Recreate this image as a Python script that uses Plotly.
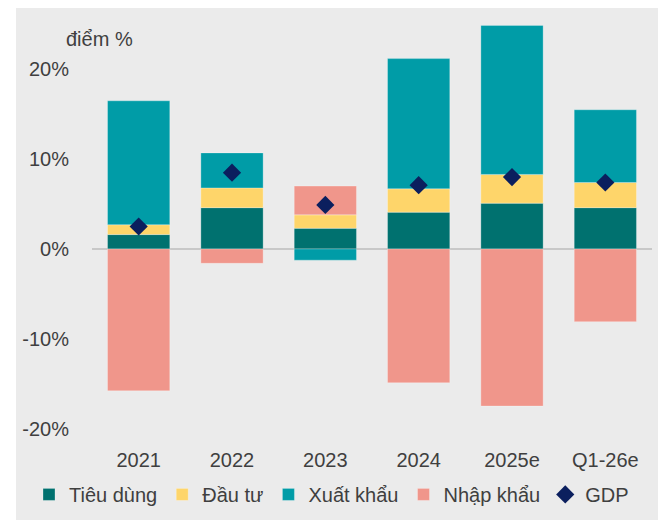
import plotly.graph_objects as go

categories = ["2021", "2022", "2023", "2024", "2025e", "Q1-26e"]
tieu_dung = [1.6, 4.6, 2.3, 4.1, 5.1, 4.6]
dau_tu = [1.1, 2.2, 1.5, 2.6, 3.2, 2.8]
xuat_khau = [13.8, 3.9, -1.25, 14.5, 16.6, 8.1]
nhap_khau = [-15.8, -1.6, 3.2, -14.9, -17.5, -8.1]
gdp = [2.5, 8.5, 4.9, 7.1, 8.0, 7.4]

ytick_vals = [-20, -10, 0, 10, 20]
ytick_text = ["-20%", "-10%", "0%", "10%", "20%"]

FONT = "Liberation Sans"
TXT = "#3f3f3f"
BG = "#ebebeb"
FS = 20

edge = dict(color="rgba(255,255,255,0.35)", width=0.8)

fig = go.Figure()
fig.add_bar(x=categories, y=tieu_dung, name="Tiêu dùng", marker=dict(color="#00716f", line=edge))
fig.add_bar(x=categories, y=dau_tu, name="Đầu tư", marker=dict(color="#fed56a", line=edge))
fig.add_bar(x=categories, y=xuat_khau, name="Xuất khẩu", marker=dict(color="#009ca7", line=edge))
fig.add_bar(x=categories, y=nhap_khau, name="Nhập khẩu", marker=dict(color="#f0968b", line=edge))
fig.add_scatter(x=categories, y=gdp, name="GDP", mode="markers",
                marker=dict(symbol="diamond", size=14, color="#0b1f5e"))

L, R, T, B = 92, 6, 20, 86.5
W, H = 658, 520
pw = W - L - R
ph = H - T - B

def px_x(x):
    return (x - L) / pw

def px_y(y):
    return (H - B - y) / ph

fig.add_shape(type="rect", xref="paper", yref="paper",
              x0=px_x(16), x1=px_x(W + 5), y0=px_y(H + 5), y1=px_y(8),
              fillcolor=BG, line=dict(width=0), layer="below")

fig.add_annotation(text="điểm %", xref="paper", yref="paper",
                   x=px_x(64), y=px_y(39), xanchor="left", yanchor="middle",
                   showarrow=False, font=dict(family=FONT, size=FS, color=TXT))

fig.update_layout(
    width=W, height=H,
    margin=dict(l=L, r=R, t=T, b=B),
    paper_bgcolor="white",
    plot_bgcolor="rgba(0,0,0,0)",
    barmode="relative",
    bargap=0.333,
    font=dict(family=FONT, size=FS, color=TXT),
    showlegend=True,
    legend=dict(orientation="h", x=px_x(29), xanchor="left",
                y=px_y(495), yanchor="middle",
                font=dict(family=FONT, size=FS, color=TXT),
                bgcolor="rgba(0,0,0,0)", itemwidth=30, traceorder="normal"),
)
fig.update_xaxes(range=[-0.5, 5.5], showgrid=False, showline=False, zeroline=False,
                 ticks="outside", ticklen=9, tickcolor="rgba(0,0,0,0)",
                 tickfont=dict(family=FONT, size=FS, color=TXT))
fig.update_yaxes(range=[-20.5, 25.5], showgrid=False, showline=False,
                 zeroline=True, zerolinecolor="#c8c8c8", zerolinewidth=1.5,
                 tickvals=ytick_vals, ticktext=ytick_text,
                 ticks="outside", ticklen=18, tickcolor="rgba(0,0,0,0)",
                 tickfont=dict(family=FONT, size=FS, color=TXT))

fig.write_html("out.html", config={"displayModeBar": False},
               post_script="document.body.style.margin='0px';document.body.style.padding='0px';")
